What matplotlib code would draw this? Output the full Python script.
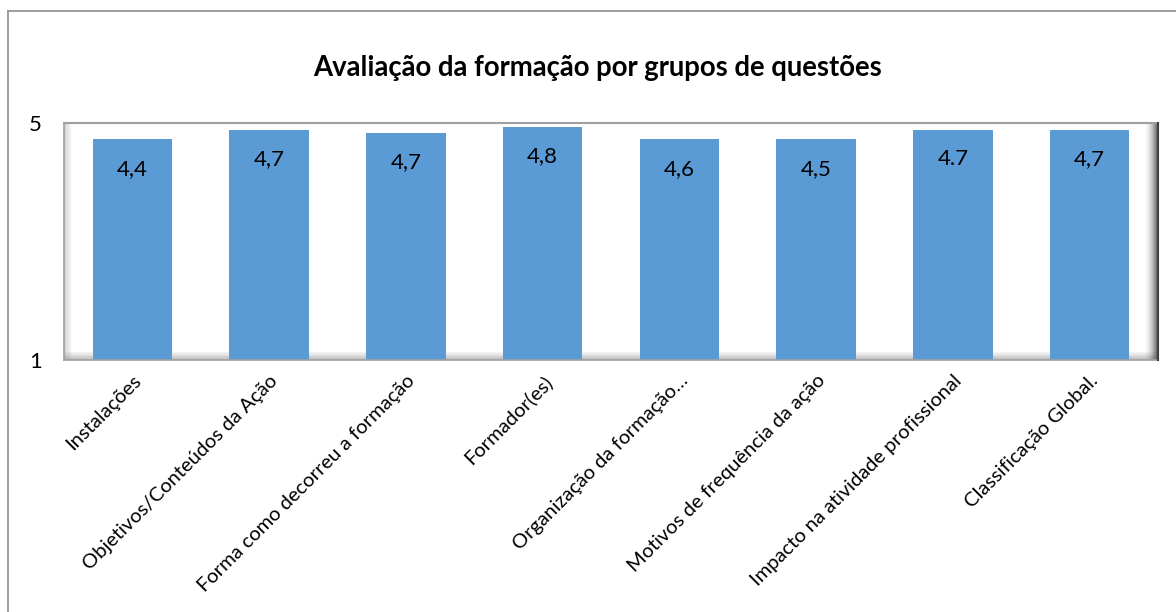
import matplotlib
matplotlib.use('Agg')
import matplotlib.pyplot as plt
from matplotlib.patches import Rectangle
from matplotlib.lines import Line2D

categories = ['Instalações', 'Objetivos/Conteúdos da Ação', 'Forma como decorreu a formação',
              'Formador(es)', 'Organização da formação…', 'Motivos de frequência da ação',
              'Impacto na atividade profissional', 'Classificação Global.']
# bar heights as drawn in the picture
heights = [4.73, 4.89, 4.84, 4.94, 4.73, 4.73, 4.89, 4.89]
# labels as written on the bars
value_labels = ['4,4', '4,7', '4,7', '4,8', '4,6', '4,5', '4.7', '4,7']
yticks = [1, 5]

plt.rcParams['font.family'] = ['Lato', 'DejaVu Sans']

W, H = 1176, 612
fig = plt.figure(figsize=(W / 100, H / 100), dpi=100)

# outer chart border (runs off the right and bottom)
fig.add_artist(Line2D([8 / W, 8 / W], [0, 1 - 11 / H], transform=fig.transFigure, color='#8e8e8e', lw=1.2))
fig.add_artist(Line2D([8 / W, 1], [1 - 11 / H, 1 - 11 / H], transform=fig.transFigure, color='#8e8e8e', lw=1.2))

left, right, top, bottom = 64, 1158, 123.5, 359.5
ax = fig.add_axes([left / W, 1 - bottom / H, (right - left) / W, (bottom - top) / H])

x = range(len(categories))
ax.bar(x, [h - 1 for h in heights], bottom=1, width=0.58, color='#5b9bd5', zorder=3)
ax.set_xlim(-0.5, len(categories) - 0.5)
ax.set_ylim(1, 5)
ax.set_yticks(yticks)
ax.set_yticklabels([str(t) for t in yticks], fontsize=16)
ax.tick_params(axis='y', length=0, pad=16)
ax.set_xticks(list(x))
ax.set_xticklabels(categories, rotation=45, ha='right', rotation_mode='anchor', fontsize=14.5)
ax.tick_params(axis='x', length=0, pad=9)

for i, (h, lab) in enumerate(zip(heights, value_labels)):
    ax.annotate(lab, (i, h), xytext=(0, -21), textcoords='offset points',
                ha='center', va='center', fontsize=16, zorder=4)

for s in ax.spines.values():
    s.set_visible(False)

# bevelled frame of the plot area
pw, ph = right - left, bottom - top
n = 10
for k in range(n):
    a = (1 - k / n)
    # left inner shadow
    ax.add_patch(Rectangle((k * 0.8 / pw, 0), 0.8 / pw, 1, transform=ax.transAxes,
                           color='#9a9a9a', alpha=0.45 * a, lw=0, zorder=1))
    # bottom inner shadow
    ax.add_patch(Rectangle((0, k * 0.8 / ph), 1, 0.8 / ph, transform=ax.transAxes,
                           color='#8a8a8a', alpha=0.55 * a, lw=0, zorder=1))
# right dark bevel
m = 14
for k in range(m):
    a = (k + 1) / m
    ax.add_patch(Rectangle((1 - (m - k) / pw, 0), 1 / pw, 1, transform=ax.transAxes,
                           color='#404040', alpha=0.85 * a ** 2, lw=0, zorder=1))
ax.plot([0, 1], [1, 1], transform=ax.transAxes, color='#a0a0a0', lw=1.5, clip_on=False, zorder=5)
ax.plot([0, 1], [0, 0], transform=ax.transAxes, color='#a0a0a0', lw=1.2, clip_on=False, zorder=5)
ax.plot([0, 0], [0, 1], transform=ax.transAxes, color='#a0a0a0', lw=1.2, clip_on=False, zorder=5)
ax.plot([1, 1], [0, 1], transform=ax.transAxes, color='#404040', lw=1.5, clip_on=False, zorder=5)

fig.text(598 / W, 1 - 68 / H, 'Avaliação da formação por grupos de questões',
         ha='center', va='center', fontsize=19.8, fontweight='bold')

fig.savefig('out.png', dpi=100)
